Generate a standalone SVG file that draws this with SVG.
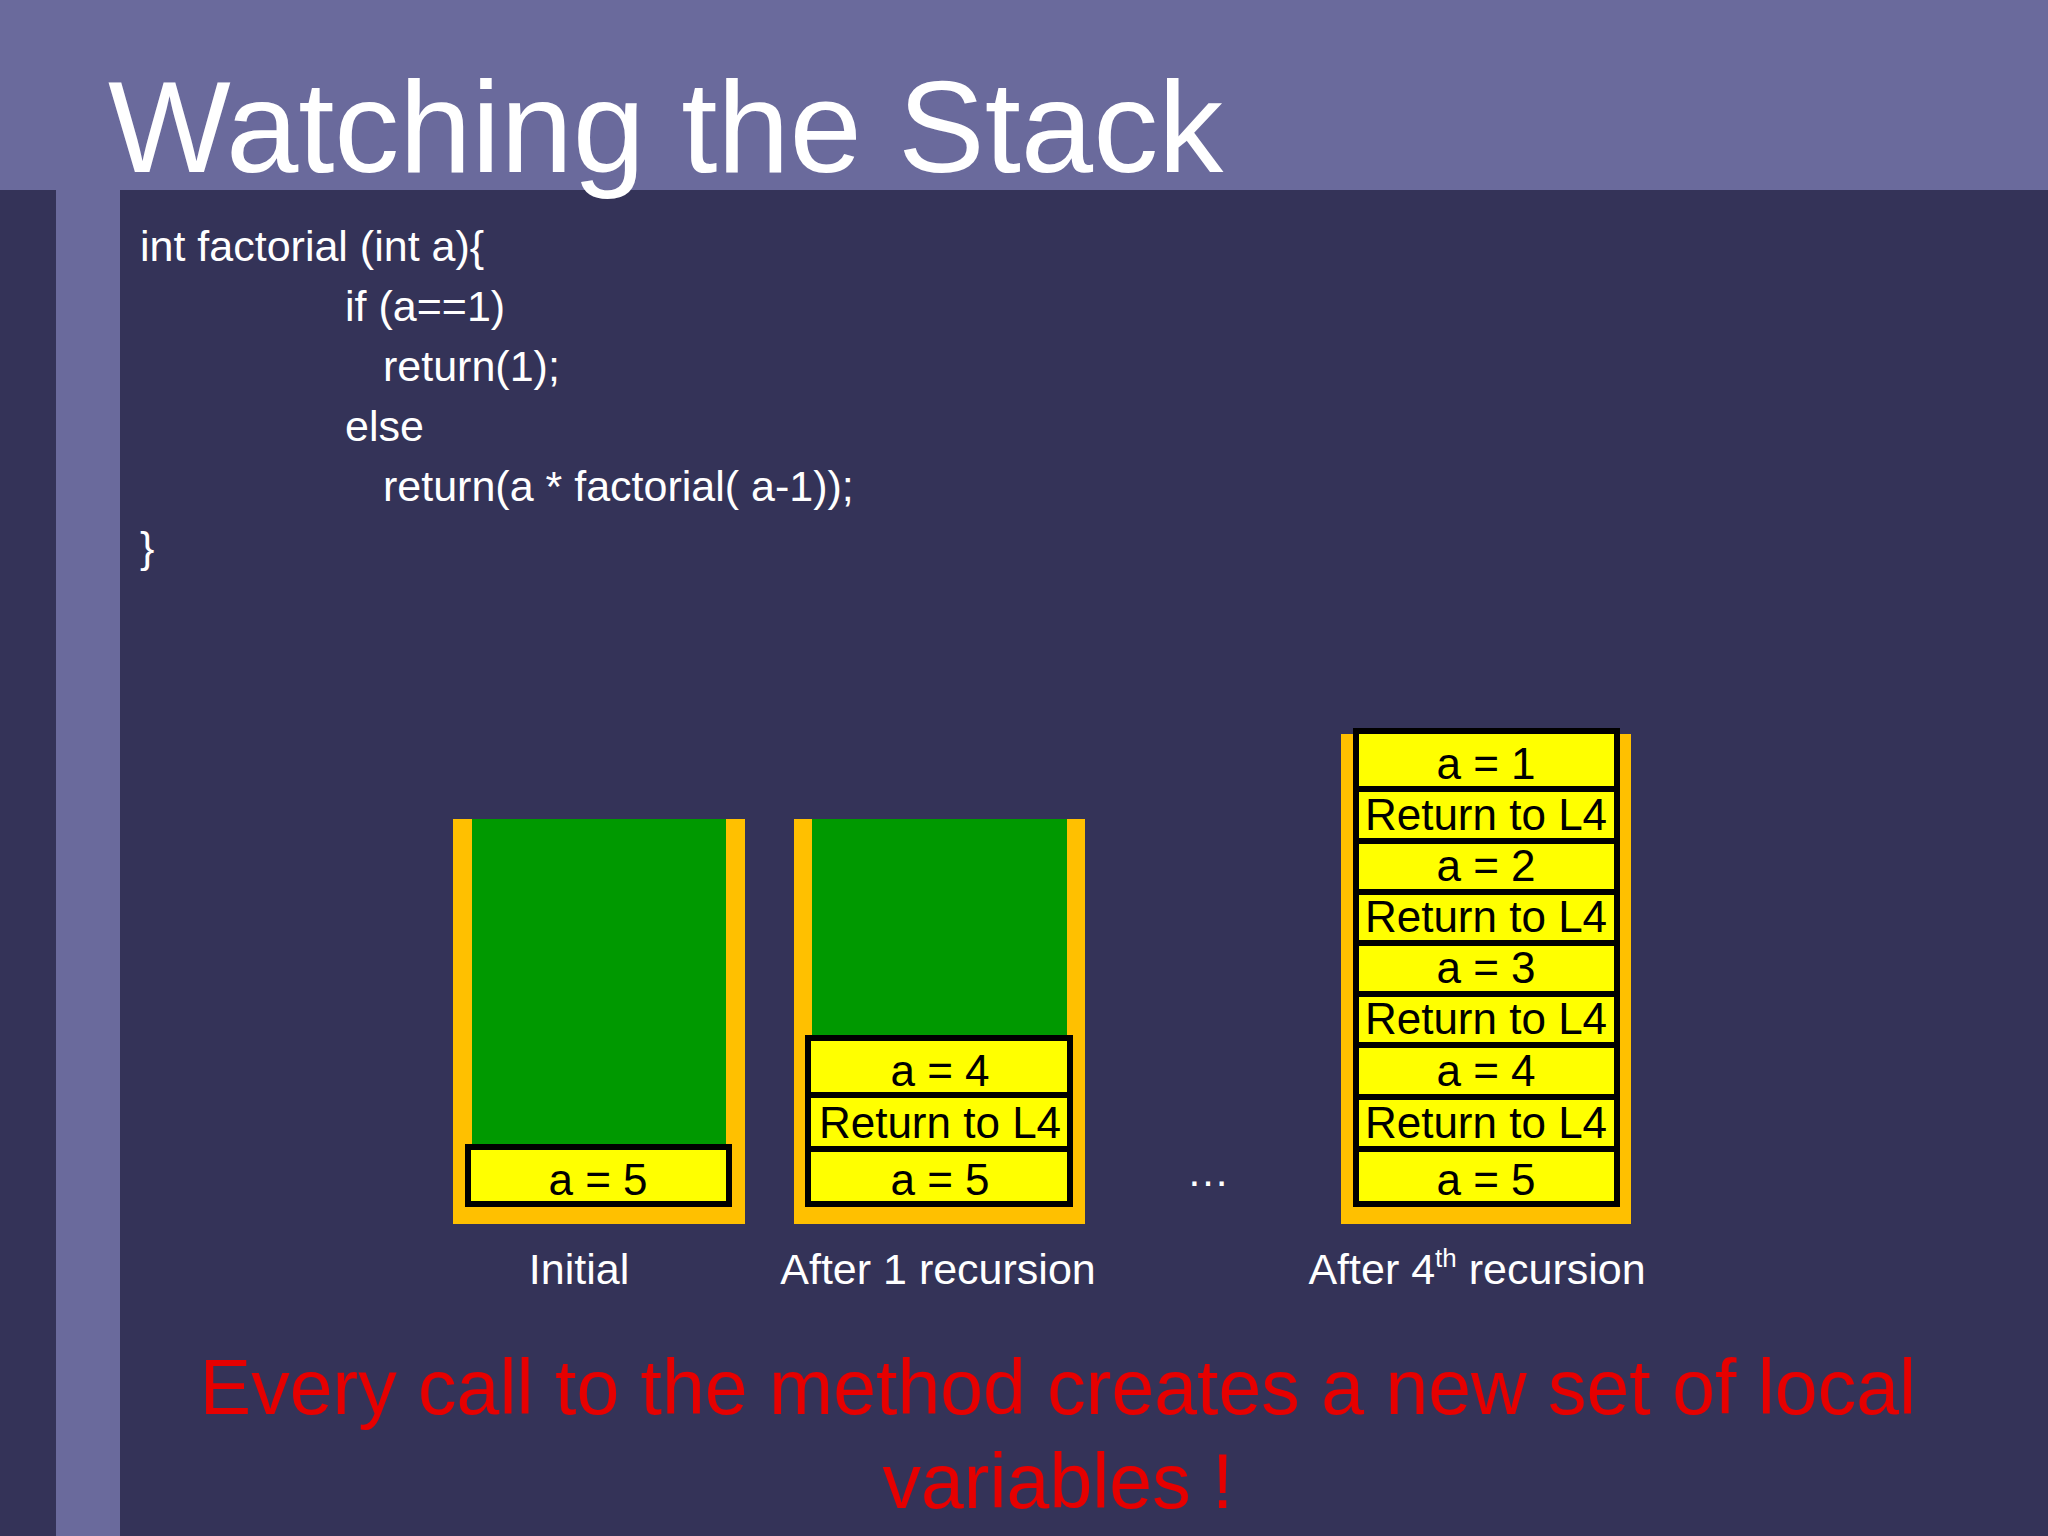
<svg xmlns="http://www.w3.org/2000/svg" width="2048" height="1536" viewBox="0 0 2048 1536">
<style>
text{font-family:"Liberation Sans",Arial,sans-serif}
.w{fill:#fff;font-size:43px}
.b{fill:#000;font-size:44px;text-anchor:middle}
.lab{fill:#fff;font-size:43px;text-anchor:middle}
.or{fill:#ffc000}
.gr{fill:#009900}
.box{fill:#ffff00;stroke:#000;stroke-width:6}
.red{fill:#e60000;font-size:77px;text-anchor:middle}
</style>
<rect width="2048" height="1536" fill="#343358"/>
<rect width="2048" height="190" fill="#6a6a9c"/>
<rect x="56" y="190" width="64" height="1346" fill="#6a6a9c"/>
<text x="108" y="172" fill="#fff" font-size="130">Watching the Stack</text>
<g id="code">
<text class="w" x="140" y="261">int factorial (int a){</text>
<text class="w" x="345" y="321">if (a==1)</text>
<text class="w" x="383" y="381">return(1);</text>
<text class="w" x="345" y="441">else</text>
<text class="w" x="383" y="501">return(a * factorial( a-1));</text>
<text class="w" x="140" y="562">}</text>
</g>
<g id="stack1">
<rect class="or" x="453" y="819" width="292" height="405"/>
<rect class="gr" x="472" y="819" width="254" height="330"/>
<rect class="box" x="468" y="1147" width="261" height="57"/>
<text class="b" x="598" y="1195">a = 5</text>
<text class="lab" x="579" y="1284">Initial</text>
</g>
<g id="stack2">
<rect class="or" x="794" y="819" width="291" height="405"/>
<rect class="gr" x="812" y="819" width="255" height="220"/>
<rect class="box" x="808" y="1038" width="262" height="57"/>
<rect class="box" x="808" y="1095" width="262" height="54"/>
<rect class="box" x="808" y="1149" width="262" height="55"/>
<text class="b" x="940" y="1086">a = 4</text>
<text class="b" x="940" y="1138">Return to L4</text>
<text class="b" x="940" y="1195">a = 5</text>
<text class="lab" x="938" y="1284">After 1 recursion</text>
</g>
<text x="1208" y="1186" fill="#fff" font-size="43" text-anchor="middle">…</text>
<g id="stack3">
<rect class="or" x="1341" y="734" width="290" height="490"/>
<rect class="box" x="1356" y="731" width="261" height="58"/>
<rect class="box" x="1356" y="789" width="261" height="52"/>
<rect class="box" x="1356" y="841" width="261" height="51"/>
<rect class="box" x="1356" y="892" width="261" height="51"/>
<rect class="box" x="1356" y="943" width="261" height="51"/>
<rect class="box" x="1356" y="994" width="261" height="51"/>
<rect class="box" x="1356" y="1045" width="261" height="52"/>
<rect class="box" x="1356" y="1097" width="261" height="52"/>
<rect class="box" x="1356" y="1149" width="261" height="55"/>
<text class="b" x="1486" y="779">a = 1</text>
<text class="b" x="1486" y="830">Return to L4</text>
<text class="b" x="1486" y="881">a = 2</text>
<text class="b" x="1486" y="932">Return to L4</text>
<text class="b" x="1486" y="983">a = 3</text>
<text class="b" x="1486" y="1034">Return to L4</text>
<text class="b" x="1486" y="1086">a = 4</text>
<text class="b" x="1486" y="1138">Return to L4</text>
<text class="b" x="1486" y="1195">a = 5</text>
<text class="lab" x="1477" y="1284">After 4<tspan font-size="26" dy="-17">th</tspan><tspan dy="17"> recursion</tspan></text>
</g>
<text class="red" x="1058" y="1414">Every call to the method creates a new set of local</text>
<text class="red" x="1058" y="1508">variables !</text>
</svg>
